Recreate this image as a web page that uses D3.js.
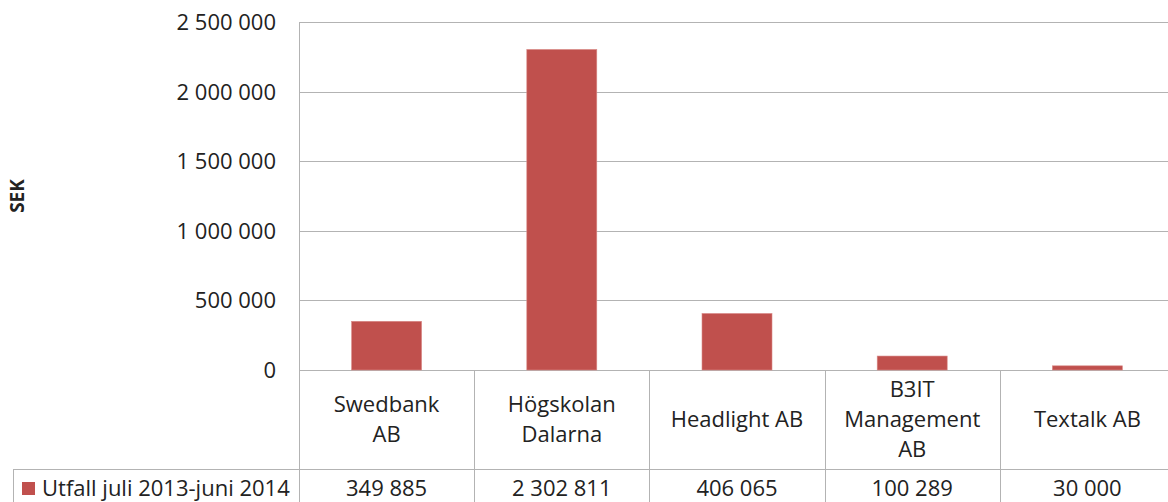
<!DOCTYPE html>
<html>
<head>
<meta charset="utf-8">
<script src="https://cdn.jsdelivr.net/npm/d3@7"></script>
<style>
  html, body { margin: 0; padding: 0; background: #fff; }
  svg { display: block; }
  text { font-family: "Open Sans", sans-serif; fill: #222; }
</style>
</head>
<body>
<svg id="chart" width="1168" height="502"></svg>
<script>
const categories = ["Swedbank\nAB", "Högskolan\nDalarna", "Headlight AB", "B3IT\nManagement\nAB", "Textalk AB"];
const values = [349885, 2302811, 406065, 100289, 30000];
const seriesName = "Utfall juli 2013-juni 2014";
const yTicks = [0, 500000, 1000000, 1500000, 2000000, 2500000];
const yTitle = "SEK";

(function () {
const W = 1168, H = 502;
const plotLeft = 299, plotRight = 1175, plotTop = 22, zeroY = 370;
const catRowBottom = 469;
const gridColor = "#b3b3b3";
const barColor = "#c0504d";

const svg = d3.select("#chart");
const loc = d3.formatLocale({decimal: ",", thousands: "\u00a0", grouping: [3], currency: ["", " kr"]});
const fmt = loc.format(",d");

const x = d3.scaleBand().domain(d3.range(categories.length)).range([plotLeft, plotRight]).paddingInner(0).paddingOuter(0);
const y = d3.scaleLinear().domain([0, 2500000]).range([zeroY, plotTop]);

// gridlines
svg.append("g").selectAll("line").data(yTicks).join("line")
  .attr("x1", plotLeft).attr("x2", plotRight)
  .attr("y1", d => Math.round(y(d)) + 0.5).attr("y2", d => Math.round(y(d)) + 0.5)
  .attr("stroke", gridColor).attr("stroke-width", 1);

// y tick labels
svg.append("g").selectAll("text").data(yTicks).join("text")
  .attr("x", 276).attr("y", d => y(d)).attr("dy", "0.36em")
  .attr("text-anchor", "end").attr("font-size", 22)
  .text(d => fmt(d));

// y title
svg.append("text")
  .attr("transform", "translate(24,196) rotate(-90)")
  .attr("text-anchor", "middle").attr("font-size", 19).attr("font-weight", "bold")
  .attr("fill", "#000")
  .text(yTitle);

// bars
const bw = 70;
svg.append("g").selectAll("rect").data(values).join("rect")
  .attr("x", (d, i) => x(i) + x.bandwidth() / 2 - bw / 2)
  .attr("width", bw)
  .attr("y", d => y(d))
  .attr("height", d => y(0) - y(d))
  .attr("fill", barColor)
  .attr("stroke", "#d98a88").attr("stroke-width", 0.6);

// table lines
const g = svg.append("g").attr("stroke", gridColor).attr("stroke-width", 1).attr("fill", "none");
g.append("line").attr("x1", plotLeft + 0.5).attr("x2", plotLeft + 0.5).attr("y1", plotTop).attr("y2", H);
g.selectAll("line.col").data(d3.range(1, categories.length + 1)).join("line").attr("class", "col")
  .attr("x1", i => Math.round(x(i - 1) + x.bandwidth()) + 0.5)
  .attr("x2", i => Math.round(x(i - 1) + x.bandwidth()) + 0.5)
  .attr("y1", zeroY).attr("y2", H);
g.append("line").attr("x1", 13).attr("x2", plotRight).attr("y1", catRowBottom + 0.5).attr("y2", catRowBottom + 0.5);
g.append("line").attr("x1", 13.5).attr("x2", 13.5).attr("y1", catRowBottom).attr("y2", H);

// category labels
const lineH = 30;
const rowMid = (zeroY + catRowBottom) / 2;
categories.forEach((c, i) => {
  const lines = c.split("\n");
  const cx = x(i) + x.bandwidth() / 2;
  const t = svg.append("text").attr("text-anchor", "middle").attr("font-size", 22);
  lines.forEach((ln, k) => {
    t.append("tspan").attr("x", cx)
      .attr("y", rowMid + (k - (lines.length - 1) / 2) * lineH)
      .attr("dy", "0.36em").text(ln);
  });
});

// value row
svg.append("g").selectAll("text").data(values).join("text")
  .attr("x", (d, i) => x(i) + x.bandwidth() / 2)
  .attr("y", 496).attr("text-anchor", "middle").attr("font-size", 22)
  .text(d => fmt(d));

// legend
svg.append("rect").attr("x", 22).attr("y", 482).attr("width", 13).attr("height", 13).attr("fill", barColor);
svg.append("text").attr("x", 42).attr("y", 496).attr("font-size", 22).text(seriesName);
})();
</script>
</body>
</html>
